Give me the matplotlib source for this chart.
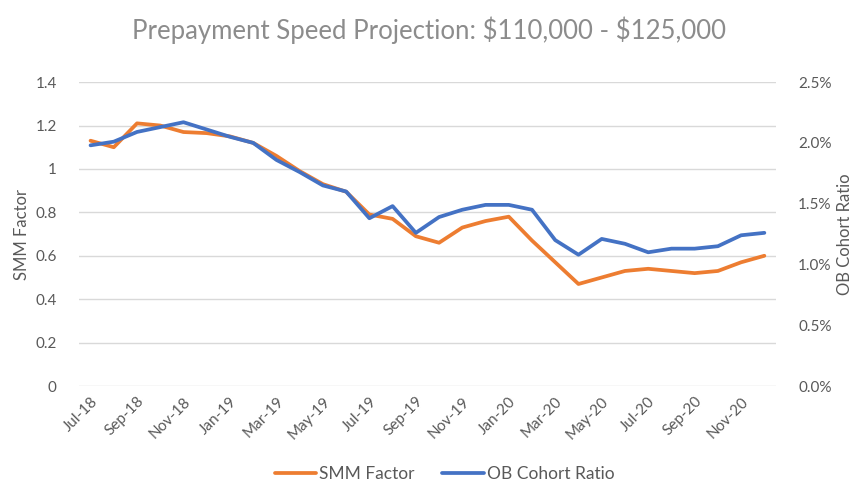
import numpy as np
import matplotlib.pyplot as plt
from matplotlib.ticker import FuncFormatter

# Data
months = ["Jul-18", "Aug-18", "Sep-18", "Oct-18", "Nov-18", "Dec-18",
          "Jan-19", "Feb-19", "Mar-19", "Apr-19", "May-19", "Jun-19",
          "Jul-19", "Aug-19", "Sep-19", "Oct-19", "Nov-19", "Dec-19",
          "Jan-20", "Feb-20", "Mar-20", "Apr-20", "May-20", "Jun-20",
          "Jul-20", "Aug-20", "Sep-20", "Oct-20", "Nov-20", "Dec-20"]
smm_factor = [1.13, 1.10, 1.21, 1.20, 1.17, 1.165, 1.15, 1.12, 1.06, 0.99,
              0.93, 0.895, 0.79, 0.77, 0.69, 0.66, 0.73, 0.76, 0.78, 0.67,
              0.57, 0.47, 0.50, 0.53, 0.54, 0.53, 0.52, 0.53, 0.57, 0.60]
ob_ratio = [1.98, 2.01, 2.09, 2.13, 2.17, 2.11, 2.05, 2.00, 1.86, 1.76,
            1.65, 1.60, 1.38, 1.48, 1.26, 1.39, 1.45, 1.49, 1.49, 1.45,
            1.20, 1.08, 1.21, 1.17, 1.10, 1.13, 1.13, 1.15, 1.24, 1.26]

ORANGE = "#ED7D31"
BLUE = "#4472C4"
TXT = "#595959"

plt.rcParams['font.family'] = ['Lato', 'DejaVu Sans']

fig = plt.figure(figsize=(8.58, 4.83), dpi=100)
ax = fig.add_axes([0.092, 0.2008, 0.8124, 0.6292])
ax2 = ax.twinx()

x = np.arange(len(months))
l1, = ax.plot(x, smm_factor, color=ORANGE, lw=2.7, solid_capstyle='round', label="SMM Factor")
l2, = ax2.plot(x, ob_ratio, color=BLUE, lw=2.7, solid_capstyle='round', label="OB Cohort Ratio")

ax.set_xlim(-0.5, len(months) - 0.5)
ax.set_ylim(0, 1.4)
ax.set_yticks(np.arange(0, 1.41, 0.2))
ax.yaxis.set_major_formatter(FuncFormatter(lambda v, p: f"{v:g}"))
ax2.set_ylim(0, 2.5)
ax2.set_yticks(np.arange(0, 2.51, 0.5))
ax2.yaxis.set_major_formatter(FuncFormatter(lambda v, p: f"{v:.1f}%"))

ax.set_xticks(x[::2])
ax.set_xticklabels(months[::2], rotation=45, ha='right', rotation_mode='anchor')

ax.grid(axis='y', color="#d9d9d9", lw=1)
ax.set_axisbelow(True)
for a in (ax, ax2):
    for s in a.spines.values():
        s.set_visible(False)
    a.tick_params(length=0, colors=TXT, labelsize=11)
ax.tick_params(axis='y', pad=16)
ax2.tick_params(axis='y', pad=16)
ax.tick_params(axis='x', pad=6)

ax.set_ylabel("SMM Factor", color=TXT, fontsize=12, labelpad=4)
# sits right at the edge, like the reference, but stays inside the canvas
ax2.set_ylabel("OB Cohort Ratio", color=TXT, fontsize=12, labelpad=4)

fig.suptitle(r"Prepayment Speed Projection: \$110,000 - \$125,000",
             color="#8c8c8c", fontsize=18.5, y=0.965)

fig.legend(handles=[l1, l2], loc='center', bbox_to_anchor=(0.518, 0.018),
           ncol=2, frameon=False, fontsize=12.5, labelcolor=TXT,
           handlelength=2.4, handletextpad=0.15, columnspacing=1.6)

fig.savefig("out.png", dpi=100)
